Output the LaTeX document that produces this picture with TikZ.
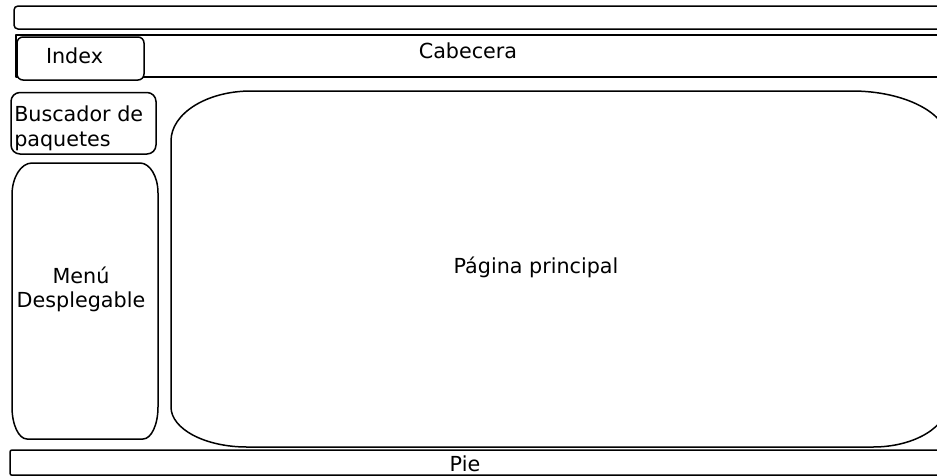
\documentclass[tikz,border=0pt]{standalone}
\usepackage{fontspec}
\setmainfont{DejaVu Sans}
\begin{document}
\begin{tikzpicture}[x=1pt,y=-1pt,line width=1.5pt,line join=round,
  txt/.style={font=\fontsize{20.7}{24.5}\selectfont,inner sep=0pt}]
\useasboundingbox (0,0) rectangle (937,475);
\clip (0,0) rectangle (937,475);

% top strip
\draw[rounded corners=4pt] (960,6) -- (14,6) -- (14,29) -- (960,29);

% header band
\draw (960,35) -- (16,35) -- (16,77) -- (960,77);
\draw[rounded corners=6pt,fill=white] (17,37) rectangle (144,80);

% package search box
\draw[rounded corners=9pt] (11,92.5) rectangle (156,154);

% drop-down menu
\draw (32,163) -- (140,163)
  .. controls (149.9,163) and (158,176.4) .. (158,193)
  -- (158,407)
  .. controls (158,424.7) and (151.3,439) .. (143,439)
  -- (27,439)
  .. controls (18.7,439) and (12,424.7) .. (12,407)
  -- (12,195)
  .. controls (12,177.3) and (21,163) .. (32,163) -- cycle;

% main page
\draw (251,91) -- (852,91)
  .. controls (905,91) and (948,113.4) .. (948,141)
  -- (948,402)
  .. controls (948,426.8) and (914.4,447) .. (873,447)
  -- (247,447)
  .. controls (205,447) and (171,429) .. (171,407)
  -- (171,141)
  .. controls (171,113.4) and (206.8,91) .. (251,91) -- cycle;

% footer, its lower edge running along the bottom border
\draw[rounded corners=2pt] (960,450) -- (10,450) -- (10,475.2) -- (960,475.2);

% labels
\node[txt,anchor=base] (cab) at (468,58.3) {Cabecera};
\node[txt,anchor=base] (idx) at (74.5,63.3) {Index};
\node[txt,align=left,anchor=west] (busc) at (13.5,128.5) {Buscador de\\paquetes};
\node[txt,align=center] (menu) at (81,289.5) {Menú\\Desplegable};
\node[txt,anchor=base] (pag) at (536,273.3) {Página principal};
\node[txt,anchor=base] (pie) at (465,471.3) {Pie};
\end{tikzpicture}
\end{document}
